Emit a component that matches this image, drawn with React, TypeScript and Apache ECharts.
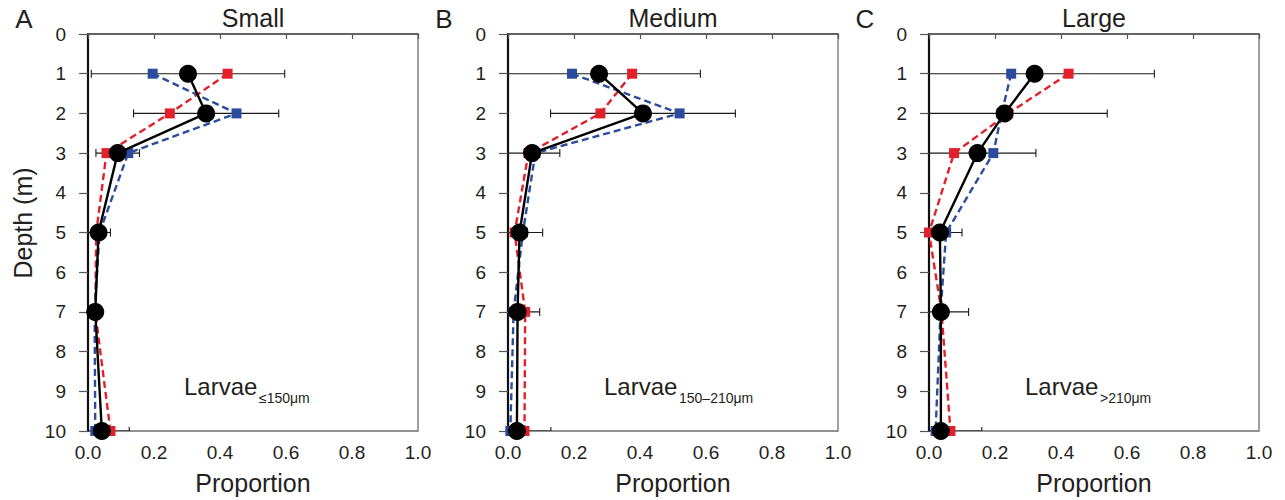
import React, { useEffect, useRef } from "react";
import * as echarts from "echarts";

// Sampling depths (m)
const depths = [1, 2, 3, 5, 7, 10];

// Panel titles and subscripts
const panelTitles = ["Small", "Medium", "Large"];
const panelLetters = ["A", "B", "C"];
const sizeClasses = ["≤150μm", "150–210μm", ">210μm"];

// Axis tick labels
const xTicks = ["0.0", "0.2", "0.4", "0.6", "0.8", "1.0"];
const yTicks = ["0", "1", "2", "3", "4", "5", "6", "7", "8", "9", "10"];

// Mean proportion (black) with ± error, and the two sub-groups (red, blue)
const meanSmall = [0.303, 0.358, 0.09, 0.032, 0.022, 0.042];
const errSmall = [0.293, 0.22, 0.066, 0.036, 0.008, 0.083];
const redSmall = [0.423, 0.248, 0.056, 0.025, 0.022, 0.068];
const blueSmall = [0.196, 0.45, 0.122, 0.035, 0.02, 0.022];

const meanMedium = [0.276, 0.409, 0.073, 0.035, 0.029, 0.027];
const errMedium = [0.307, 0.28, 0.084, 0.07, 0.067, 0.103];
const redMedium = [0.376, 0.28, 0.062, 0.02, 0.052, 0.05];
const blueMedium = [0.194, 0.52, 0.083, 0.045, 0.017, 0.007];

const meanLarge = [0.32, 0.229, 0.147, 0.033, 0.036, 0.036];
const errLarge = [0.363, 0.311, 0.177, 0.067, 0.084, 0.124];
const redLarge = [0.423, 0.24, 0.076, 0.0, 0.038, 0.065];
const blueLarge = [0.249, 0.22, 0.195, 0.052, 0.035, 0.02];

const panels = [
  { mean: meanSmall, err: errSmall, red: redSmall, blue: blueSmall },
  { mean: meanMedium, err: errMedium, red: redMedium, blue: blueMedium },
  { mean: meanLarge, err: errLarge, red: redLarge, blue: blueLarge },
];

const FONT = "'Liberation Sans', Arial, Helvetica, sans-serif";
const TEXT = "#231f20";
const RED = "#e3202a";
const BLUE = "#2b4c9e";

const gridLefts = [88, 508, 929];
const GRID_TOP = 34;
const GRID_W = 330;
const GRID_H = 399;

export default function App() {
  const ref = useRef<HTMLDivElement>(null);

  useEffect(() => {
    if (!ref.current) return;
    const chart = echarts.init(ref.current, undefined, { renderer: "svg" });

    const grid = gridLefts.map((left) => ({
      left,
      top: GRID_TOP,
      width: GRID_W,
      height: GRID_H,
      show: true,
      borderColor: "#6d6d6d",
      borderWidth: 1.3,
      backgroundColor: "transparent",
    }));

    const xAxis = gridLefts.map((_, i) => ({
      type: "value",
      gridIndex: i,
      min: 0,
      max: 1,
      interval: 0.2,
      name: "Proportion",
      nameLocation: "middle",
      nameGap: 39,
      nameTextStyle: { fontFamily: FONT, fontSize: 25, color: TEXT },
      axisLine: { show: true, lineStyle: { color: "#555", width: 1.5 } },
      axisTick: { show: true, length: 5, lineStyle: { color: "#555", width: 1.2 } },
      axisLabel: {
        fontFamily: FONT,
        fontSize: 19,
        color: TEXT,
        margin: 12,
        formatter: (v: number) => xTicks[Math.round(v / 0.2)] ?? "",
      },
      splitLine: { show: false },
    }));

    const yAxis = gridLefts.map((_, i) => ({
      type: "value",
      gridIndex: i,
      min: 0,
      max: 10,
      interval: 1,
      inverse: true,
      axisLine: { show: true, onZero: false, lineStyle: { color: "#111", width: 2.2 } },
      axisTick: { show: true, length: 9, lineStyle: { color: "#555", width: 1.2 } },
      axisLabel: {
        fontFamily: FONT,
        fontSize: 19,
        color: TEXT,
        margin: 22,
        padding: [3, 0, 0, 0],
        formatter: (v: number) => yTicks[Math.round(v)] ?? "",
      },
      splitLine: { show: false },
    }));

    const series: any[] = [];
    panels.forEach((p, i) => {
      // horizontal error bars around the mean
      series.push({
        type: "custom",
        xAxisIndex: i,
        yAxisIndex: i,
        clip: true,
        z: 1,
        data: depths.map((d, k) => [p.mean[k] - p.err[k], d, p.mean[k] + p.err[k]]),
        encode: { x: [0, 2], y: 1 },
        renderItem: (_params: any, api: any) => {
          const d = api.value(1);
          const lo = api.coord([api.value(0), d]);
          const hi = api.coord([api.value(2), d]);
          const cap = 4;
          const style = { stroke: "#1a1a1a", lineWidth: 1.1 };
          return {
            type: "group",
            children: [
              { type: "line", shape: { x1: lo[0], y1: lo[1], x2: hi[0], y2: hi[1] }, style },
              { type: "line", shape: { x1: lo[0], y1: lo[1] - cap, x2: lo[0], y2: lo[1] + cap }, style },
              { type: "line", shape: { x1: hi[0], y1: hi[1] - cap, x2: hi[0], y2: hi[1] + cap }, style },
            ],
          };
        },
      });
      series.push({
        type: "line",
        xAxisIndex: i,
        yAxisIndex: i,
        z: 2,
        data: depths.map((d, k) => [p.red[k], d]),
        symbol: "rect",
        symbolSize: 10,
        itemStyle: { color: RED },
        lineStyle: { color: RED, width: 2.4, type: [7, 4] },
      });
      series.push({
        type: "line",
        xAxisIndex: i,
        yAxisIndex: i,
        z: 3,
        data: depths.map((d, k) => [p.blue[k], d]),
        symbol: "rect",
        symbolSize: 10,
        itemStyle: { color: BLUE },
        lineStyle: { color: BLUE, width: 2.4, type: [7, 4] },
      });
      series.push({
        type: "line",
        xAxisIndex: i,
        yAxisIndex: i,
        z: 4,
        data: depths.map((d, k) => [p.mean[k], d]),
        symbol: "circle",
        symbolSize: 18,
        itemStyle: { color: "#000" },
        lineStyle: { color: "#000", width: 2.4 },
      });
    });

    const graphic: any[] = [];
    gridLefts.forEach((left, i) => {
      graphic.push({
        type: "text",
        x: left + GRID_W / 2,
        y: 18,
        style: {
          text: panelTitles[i],
          font: `25px ${FONT}`,
          fill: TEXT,
          align: "center",
          verticalAlign: "middle",
        },
      });
      graphic.push({
        type: "text",
        x: left - 64,
        y: 19,
        style: {
          text: panelLetters[i],
          font: `26px ${FONT}`,
          fill: TEXT,
          align: "center",
          verticalAlign: "middle",
        },
      });
      graphic.push({
        type: "group",
        x: left + 96,
        y: 386,
        children: [
          {
            type: "text",
            x: 0,
            y: 0,
            style: {
              text: "Larvae",
              font: `24px ${FONT}`,
              fill: TEXT,
              align: "left",
              verticalAlign: "middle",
            },
          },
          {
            type: "text",
            x: 75,
            y: 12,
            style: {
              text: sizeClasses[i],
              font: `14px ${FONT}`,
              fill: TEXT,
              align: "left",
              verticalAlign: "middle",
            },
          },
        ],
      });
    });
    graphic.push({
      type: "text",
      x: 23,
      y: 223,
      rotation: Math.PI / 2,
      style: {
        text: "Depth (m)",
        font: `25px ${FONT}`,
        fill: TEXT,
        align: "center",
        verticalAlign: "middle",
      },
    });

    chart.setOption({
      animation: false,
      backgroundColor: "#fff",
      grid,
      xAxis,
      yAxis,
      series,
      graphic,
    });

    return () => chart.dispose();
  }, []);

  return (
    <div
      ref={ref}
      style={{ position: "fixed", left: 0, top: 0, width: 1285, height: 500 }}
    />
  );
}
